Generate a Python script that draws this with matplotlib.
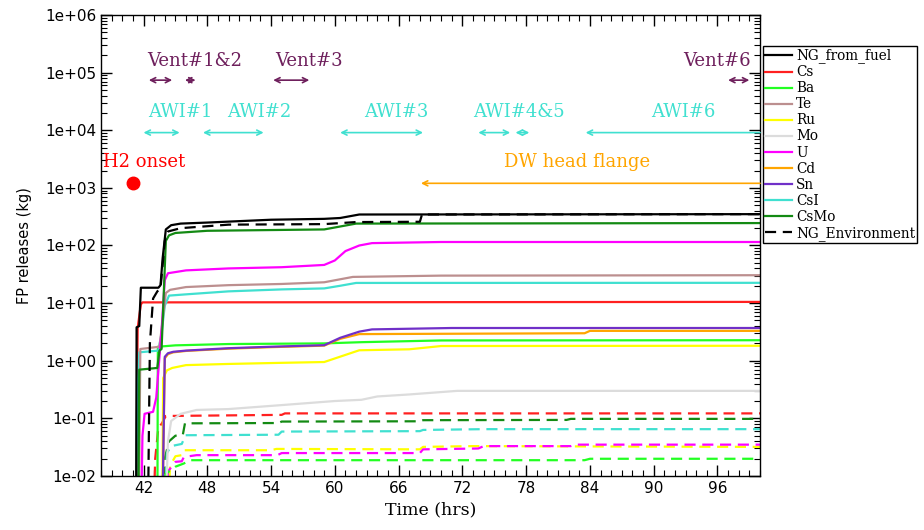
import matplotlib
matplotlib.use("Agg")
import matplotlib.pyplot as plt
from matplotlib.ticker import MultipleLocator, FixedLocator, FuncFormatter, NullFormatter

# released mass (kg) vs time (hrs) for each species
t_ng_fuel = [41.3, 41.35, 41.6, 41.75, 43.4, 43.6, 43.8, 44.1, 44.6, 45.5, 48, 54, 59, 60.5, 62.3, 100]
ng_fuel = [1e-3, 3.8, 4.0, 18.5, 18.5, 20.5, 60, 190, 225, 240, 250, 280, 290, 300, 345, 350]

t_cs = [41.35, 41.4, 41.45, 41.75, 41.9, 100]
cs = [1e-3, 0.4, 3.7, 9.5, 10.3, 10.5]

t_ba = [43.3, 43.35, 45, 50, 59, 62.5, 70, 100]
ba = [1e-3, 1.75, 1.85, 1.95, 2.0, 2.1, 2.25, 2.27]

t_te = [41.55, 41.7, 43.5, 43.8, 44.1, 44.5, 46, 50, 55, 59, 61.7, 70, 100]
te = [1e-3, 1.6, 1.75, 5, 15, 17, 19, 20.5, 21.5, 23, 28.5, 30, 30.5]

t_ru = [43.75, 43.85, 44.2, 44.7, 46, 50, 55, 59, 62.3, 67, 70, 100]
ru = [1e-3, 0.5, 0.68, 0.75, 0.84, 0.88, 0.92, 0.95, 1.52, 1.58, 1.8, 1.82]

t_mo = [44.0, 44.3, 44.6, 45.5, 47, 50, 55, 60, 62.5, 64, 67, 71.5, 100]
mo = [1e-3, 0.04, 0.09, 0.12, 0.14, 0.145, 0.17, 0.2, 0.21, 0.24, 0.26, 0.3, 0.3]

t_u = [41.75, 41.9, 42.1, 42.9, 43.2, 43.7, 44.0, 44.3, 46, 50, 55, 59, 60, 61, 62.3, 63.5, 70, 100]
u = [1e-3, 0.05, 0.12, 0.13, 0.23, 3.4, 25, 33, 37, 40, 42, 46, 55, 80, 100, 110, 115, 115]

t_cd = [43.75, 44.0, 44.3, 44.8, 46, 50, 54, 59, 60.5, 62.3, 83.5, 84, 100]
cd = [1e-3, 1.1, 1.3, 1.4, 1.48, 1.62, 1.72, 1.83, 2.4, 2.9, 3.0, 3.3, 3.3]

t_sn = [43.75, 44.0, 44.3, 44.8, 46, 50, 54, 59, 60.5, 62.3, 63.5, 71, 100]
sn = [1e-3, 1.17, 1.35, 1.43, 1.5, 1.65, 1.75, 1.86, 2.5, 3.2, 3.5, 3.7, 3.7]

t_csi = [41.3, 41.4, 41.6, 43.4, 43.7, 44.0, 44.4, 46, 50, 55, 59, 60.5, 62, 100]
csi = [1e-3, 0.2, 1.4, 1.5, 3, 9, 13.5, 14.2, 16, 17.3, 18, 20, 22.4, 22.5]

t_csmo = [41.5, 41.6, 43.3, 43.5, 43.7, 44.1, 44.4, 45, 48, 59, 62, 100]
csmo = [1e-3, 0.7, 0.75, 1.5, 1.6, 120, 150, 165, 180, 190, 240, 245]

t_ng_env = [42.4, 42.6, 42.9, 43.3, 43.6, 44.0, 44.3, 45.5, 50, 59, 62, 68.0, 68.2, 100]
ng_env = [1e-3, 2, 12, 16, 18, 120, 175, 200, 230, 235, 255, 258, 345, 350]

# environment releases (dashed, not in legend)
t_cs_env = [42.9, 43.1, 43.4, 43.7, 44.1, 55.0, 55.3, 100]
cs_env = [1e-3, 0.02, 0.07, 0.08, 0.11, 0.115, 0.122, 0.122]
t_csmo_env = [43.8, 44.0, 44.4, 45.0, 45.7, 45.9, 54.7, 55.0, 68.0, 68.3, 81.8, 82.2, 100]
csmo_env = [1e-3, 0.02, 0.04, 0.05, 0.052, 0.082, 0.083, 0.088, 0.089, 0.093, 0.094, 0.098, 0.098]
t_csi_env = [43.9, 44.2, 44.6, 45.6, 45.95, 54.7, 55.0, 68.0, 68.3, 74, 100]
csi_env = [1e-3, 0.025, 0.033, 0.036, 0.051, 0.052, 0.059, 0.06, 0.063, 0.065, 0.065]
t_ru_env = [44.2, 44.5, 45.0, 45.6, 45.8, 54.0, 54.5, 68.0, 68.3, 73, 100]
ru_env = [1e-3, 0.015, 0.022, 0.023, 0.028, 0.028, 0.0295, 0.029, 0.032, 0.033, 0.032]
t_u_env = [44.0, 44.3, 45.0, 45.6, 45.8, 47, 54.6, 55.0, 68.0, 68.3, 73.5, 74, 82.2, 82.6, 100]
u_env = [1e-3, 0.012, 0.0176, 0.018, 0.0214, 0.023, 0.023, 0.025, 0.025, 0.029, 0.03, 0.033, 0.033, 0.035, 0.035]
t_ba_env = [43.3, 43.6, 44.4, 45.0, 45.8, 46.3, 83.5, 84, 100]
ba_env = [1e-3, 0.009, 0.012, 0.0145, 0.0165, 0.0188, 0.0188, 0.0199, 0.0199]

# event windows (start, end) in hrs
vents = [(42.5, 44.7), (45.9, 46.9), (54.2, 57.6), (97.0, 99.0)]
awis = [(42.0, 45.4), (47.6, 53.3), (60.5, 68.3), (73.5, 76.5), (77.0, 78.3)]
awi6_start = 83.6
dw_start = 68.1
h2_onset = 41.0

serif = "DejaVu Serif"
vent_col = "#6e1f5c"
awi_col = "#40e0d0"

fig = plt.figure(figsize=(9.24, 5.30), dpi=100)
ax = fig.add_axes([0.1093, 0.1019, 0.7132, 0.8698])

dash = (5, 3)
lw = 1.6
ax.plot(t_cs_env, cs_env, color="#ff2020", lw=lw, dashes=dash)
ax.plot(t_csmo_env, csmo_env, color="#138a13", lw=lw, dashes=dash)
ax.plot(t_csi_env, csi_env, color=awi_col, lw=lw, dashes=dash)
ax.plot(t_ru_env, ru_env, color="#ffff00", lw=lw, dashes=dash)
ax.plot(t_u_env, u_env, color="#ff00ff", lw=lw, dashes=dash)
ax.plot(t_ba_env, ba_env, color="#22ff22", lw=lw, dashes=dash)

series = [
    (t_mo, mo, "#dcdcdc", "Mo"),
    (t_ru, ru, "#ffff00", "Ru"),
    (t_ba, ba, "#22ff22", "Ba"),
    (t_cd, cd, "#ffa500", "Cd"),
    (t_sn, sn, "#7030c8", "Sn"),
    (t_cs, cs, "#ff2020", "Cs"),
    (t_csi, csi, awi_col, "CsI"),
    (t_te, te, "#bc8f8f", "Te"),
    (t_u, u, "#ff00ff", "U"),
    (t_csmo, csmo, "#138a13", "CsMo"),
]
handles = {}
for t, v, c, name in series:
    handles[name], = ax.plot(t, v, color=c, lw=lw, label=name)
handles["NG_Environment"], = ax.plot(t_ng_env, ng_env, color="black", lw=lw, dashes=dash,
                                     label="NG_Environment")
handles["NG_from_fuel"], = ax.plot(t_ng_fuel, ng_fuel, color="black", lw=lw, label="NG_from_fuel")

order = ["NG_from_fuel", "Cs", "Ba", "Te", "Ru", "Mo", "U", "Cd", "Sn", "CsI", "CsMo", "NG_Environment"]
leg = ax.legend([handles[k] for k in order], order, loc="upper left", bbox_to_anchor=(1.004, 0.932),
                borderaxespad=0, fancybox=False, edgecolor="black", framealpha=1,
                prop={"family": serif, "size": 9.8}, labelspacing=0.15, handlelength=2.0,
                handletextpad=0.3, borderpad=0.15)
leg.get_frame().set_linewidth(1.0)

ax.set_yscale("log")
ax.set_xlim(38, 100)
ax.set_ylim(1e-2, 1e6)

# vents
for a, b in vents:
    ax.annotate("", xy=(b, 7.4e4), xytext=(a, 7.4e4),
                arrowprops=dict(arrowstyle="<->", color=vent_col, lw=1.2, mutation_scale=9,
                                shrinkA=0, shrinkB=0))
for x, s in [(46.83, "Vent#1&2"), (57.6, "Vent#3"), (96.0, "Vent#6")]:
    ax.text(x, 1.32e5, s, color=vent_col, family=serif, fontsize=13, ha="center", va="baseline")

# AWI windows
for a, b in awis:
    ax.annotate("", xy=(b, 9.1e3), xytext=(a, 9.1e3),
                arrowprops=dict(arrowstyle="<->", color=awi_col, lw=1.2, mutation_scale=9,
                                shrinkA=0, shrinkB=0))
ax.annotate("", xy=(awi6_start, 9.1e3), xytext=(100, 9.1e3),
            arrowprops=dict(arrowstyle="->", color=awi_col, lw=1.2, mutation_scale=9,
                            shrinkA=0, shrinkB=0))
for x, s in [(45.5, "AWI#1"), (52.9, "AWI#2"), (65.8, "AWI#3"), (77.3, "AWI#4&5"), (92.8, "AWI#6")]:
    ax.text(x, 1.71e4, s, color=awi_col, family=serif, fontsize=13, ha="center", va="baseline")

# drywell head flange leak
ax.annotate("", xy=(dw_start, 1.2e3), xytext=(100, 1.2e3),
            arrowprops=dict(arrowstyle="->", color="#ffa500", lw=1.2, mutation_scale=9,
                            shrinkA=0, shrinkB=0))
ax.text(82.8, 2.32e3, "DW head flange", color="#ffa500", family=serif, fontsize=13,
        ha="center", va="baseline")

# hydrogen onset
ax.plot([h2_onset], [1.2e3], "o", color="red", ms=9, clip_on=False)
ax.text(38.19, 2.32e3, "H2 onset", color="red", family=serif, fontsize=13, ha="left", va="baseline")

decades = [10.0 ** k for k in range(-2, 7)]
minors = [m * d for d in decades[:-1] for m in range(2, 10)]
ax.xaxis.set_major_locator(MultipleLocator(6))
ax.xaxis.set_minor_locator(MultipleLocator(1))
ax.yaxis.set_major_locator(FixedLocator(decades))
ax.yaxis.set_minor_locator(FixedLocator(minors))
ax.yaxis.set_major_formatter(FuncFormatter(lambda v, p: f"{v:.0e}"))
ax.yaxis.set_minor_formatter(NullFormatter())
ax.tick_params(which="both", direction="in", top=True, right=True, labelsize=11, colors="black")
ax.tick_params(which="major", length=8, width=1)
ax.tick_params(which="minor", length=4.5, width=0.8)
for sp in ax.spines.values():
    sp.set_linewidth(1.0)

ax.set_xlabel("Time (hrs)", family=serif, fontsize=12.5, labelpad=4)
ax.set_ylabel("FP releases (kg)", fontsize=10.5, labelpad=9)

fig.savefig("out.png", dpi=100)
